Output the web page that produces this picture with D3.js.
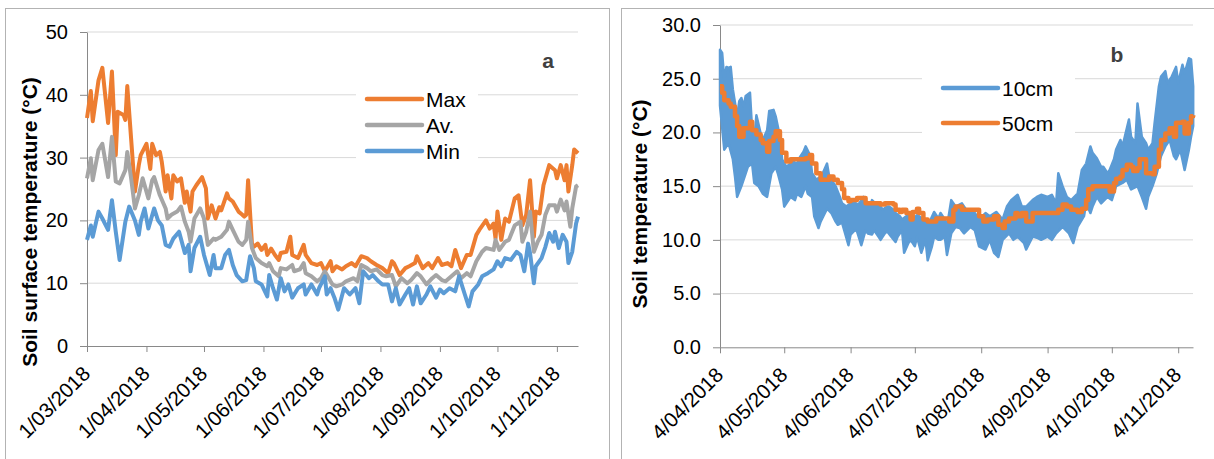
<!DOCTYPE html>
<html>
<head>
<meta charset="utf-8">
<script src="https://cdn.jsdelivr.net/npm/d3@7"></script>
<style>
  body { margin: 0; background: #fff; }
  text { font-family: "Liberation Sans", Arial, sans-serif; }
</style>
</head>
<body>
<svg id="chart" width="1214" height="459"></svg>
<script>
// ---- panel a: soil surface temperature, [days after 1 Mar 2018, °C] ----
const maxT = [[0,36.3],[2,40.6],[3,35.8],[6,42.3],[8,44.3],[11,35.5],[13,43.7],[15,30.4],[16,37.3],[19,36.8],[20,36.0],[21,41.4],[23,33.0],[25,24.6],[27,28.8],[28,30.4],[31,32.2],[33,28.2],[34,32.2],[36,30.4],[38,30.9],[39,29.3],[41,24.6],[42,27.2],[44,23.5],[45,27.2],[47,26.2],[49,26.7],[51,22.8],[52,24.6],[54,21.4],[55,24.6],[57,25.6],[60,26.9],[62,25.1],[63,20.3],[65,22.4],[67,20.3],[69,22.1],[70,21.6],[73,24.3],[74,23.5],[76,23.0],[79,21.4],[81,20.9],[82,20.6],[83,20.9],[84,26.4],[86,16.3],[87,15.8],[89,16.3],[91,15.3],[93,16.1],[94,14.5],[96,15.5],[98,14.5],[100,13.7],[101,14.8],[104,15.0],[106,17.4],[107,14.5],[110,14.0],[113,16.1],[114,14.5],[117,13.2],[120,12.9],[122,13.2],[124,11.9],[127,13.5],[128,11.9],[130,12.7],[133,12.2],[135,12.7],[138,13.2],[140,12.7],[143,14.3],[146,14.0],[148,13.5],[151,12.9],[154,12.4],[157,11.6],[159,13.5],[160,13.2],[163,11.3],[166,12.4],[168,12.7],[171,13.2],[172,14.3],[175,12.4],[178,13.2],[180,12.4],[183,14.0],[185,12.9],[188,13.2],[190,12.7],[192,15.3],[195,12.4],[198,14.5],[200,14.5],[203,17.7],[205,18.7],[208,20.0],[210,18.7],[212,19.5],[213,17.1],[214,21.4],[216,16.9],[218,20.3],[220,19.8],[223,23.5],[225,24.0],[227,19.2],[229,20.9],[231,26.4],[233,17.4],[234,21.4],[236,21.1],[238,25.6],[241,28.8],[244,28.0],[245,26.7],[247,28.8],[249,26.4],[250,28.8],[251,24.6],[253,28.8],[254,31.3],[256,30.7]];
const avT = [[0,26.7],[2,29.9],[3,26.4],[6,31.2],[8,32.2],[11,26.9],[13,33.3],[15,26.2],[17,25.9],[20,28.0],[21,30.9],[23,26.7],[25,21.9],[27,24.0],[29,26.7],[32,23.5],[34,26.4],[35,26.9],[38,24.0],[41,21.9],[42,20.3],[44,20.9],[47,21.4],[49,22.2],[51,19.8],[53,18.2],[54,16.6],[56,20.3],[59,21.9],[61,20.3],[63,16.1],[66,17.1],[67,16.9],[70,17.4],[73,18.5],[74,19.8],[76,18.5],[79,16.6],[81,16.1],[83,16.9],[84,19.8],[86,15.6],[88,14.0],[91,13.2],[94,12.7],[95,13.2],[97,11.9],[100,11.1],[101,12.4],[104,12.2],[107,12.9],[108,11.9],[111,12.2],[113,13.2],[114,11.6],[117,11.1],[120,10.3],[122,10.8],[124,11.9],[127,10.3],[128,9.8],[130,9.5],[133,9.8],[135,10.3],[139,10.8],[141,10.3],[143,12.9],[146,12.4],[148,11.9],[151,12.2],[154,11.3],[156,11.1],[159,11.3],[161,9.5],[164,10.8],[167,10.0],[169,10.5],[172,11.6],[174,11.1],[177,9.8],[180,10.8],[182,11.3],[185,10.5],[187,10.3],[190,11.1],[193,11.9],[195,10.8],[198,11.6],[200,11.1],[203,13.5],[206,15.0],[208,15.6],[212,15.3],[213,16.9],[215,15.3],[218,16.6],[220,16.9],[223,19.2],[226,19.8],[227,16.6],[229,18.2],[231,21.4],[233,15.0],[235,16.6],[237,17.7],[239,20.9],[241,22.4],[244,22.4],[245,21.4],[247,23.3],[249,21.6],[250,23.0],[252,19.0],[253,21.9],[255,25.4],[256,25.6]];
const minT = [[0,16.9],[2,19.2],[3,17.4],[6,21.4],[8,20.3],[11,18.5],[13,23.2],[15,18.2],[17,13.7],[20,19.8],[22,22.2],[25,20.0],[27,17.7],[28,19.8],[30,21.9],[32,18.7],[35,21.9],[37,20.0],[39,19.2],[41,16.1],[43,15.8],[45,17.1],[48,18.2],[51,14.8],[53,16.1],[54,11.9],[56,15.6],[59,17.4],[61,14.5],[64,11.3],[66,14.5],[67,12.4],[70,12.4],[72,14.5],[74,15.3],[76,12.9],[78,11.3],[81,10.3],[83,10.5],[85,14.3],[87,12.4],[88,10.3],[91,9.8],[94,7.9],[95,11.3],[97,9.2],[99,7.4],[101,10.8],[103,8.7],[105,9.8],[107,7.7],[110,9.2],[113,9.8],[114,8.2],[117,9.8],[120,8.2],[121,9.2],[124,11.1],[125,8.2],[127,9.2],[129,7.7],[131,5.8],[134,9.2],[137,8.2],[140,9.2],[142,6.8],[144,11.9],[147,10.8],[149,11.3],[152,10.3],[154,9.8],[157,9.8],[159,7.1],[161,9.2],[163,6.6],[166,8.2],[168,9.2],[170,6.6],[172,9.5],[174,6.8],[177,8.2],[179,9.5],[182,7.7],[184,9.0],[186,8.4],[189,9.2],[192,8.7],[194,11.1],[197,8.2],[199,6.3],[201,8.7],[204,9.8],[206,11.1],[209,11.6],[212,12.2],[214,13.5],[216,12.7],[218,14.0],[221,13.7],[224,15.0],[226,14.5],[228,11.9],[230,16.3],[231,14.8],[233,10.0],[234,12.7],[237,14.0],[239,15.8],[241,18.0],[243,16.6],[244,18.2],[246,15.6],[248,17.7],[250,16.6],[251,13.2],[253,15.0],[255,19.5],[256,20.6]];
const ticksA = ['1/03/2018','1/04/2018','1/05/2018','1/06/2018','1/07/2018','1/08/2018','1/09/2018','1/10/2018','1/11/2018'];
const yTicksA = [0, 10, 20, 30, 40, 50];

// ---- panel b: soil temperature at depth, [days after 4 Apr 2018, °C] ----
// 10cm swings every day, so it is kept as upper and lower envelope
const hi10 = [[0,27.7],[1,27.4],[2,24.9],[3,26.1],[4,26.0],[5,26.1],[6,24.0],[8,21.5],[9,22.9],[10,23.2],[11,22.4],[12,23.4],[14,23.7],[15,20.2],[16,19.3],[17,21.6],[19,19.9],[20,19.3],[22,20.2],[23,22.0],[25,22.1],[26,21.5],[28,19.6],[29,17.5],[31,16.8],[33,17.1],[34,17.3],[36,17.1],[37,17.6],[39,18.2],[40,18.7],[42,17.9],[43,16.2],[45,15.6],[47,15.9],[48,16.2],[50,17.1],[51,15.9],[53,15.3],[54,15.0],[56,14.0],[57,13.4],[59,13.1],[61,13.4],[62,13.7],[64,13.3],[65,13.4],[67,14.0],[68,13.4],[70,13.1],[71,13.7],[73,13.3],[75,13.1],[76,12.8],[78,13.1],[79,13.1],[81,12.8],[82,12.5],[84,12.2],[85,11.9],[87,12.2],[89,12.5],[90,11.9],[92,12.3],[93,12.2],[95,11.9],[96,11.9],[98,11.7],[100,12.6],[102,12.0],[103,12.5],[105,11.9],[106,11.2],[108,13.7],[110,13.1],[113,13.4],[116,12.5],[118,12.8],[121,11.9],[124,12.5],[126,12.2],[129,12.6],[132,11.9],[134,13.1],[136,13.7],[139,14.2],[141,13.1],[143,13.1],[146,13.7],[148,14.0],[150,14.2],[153,14.0],[155,14.2],[157,13.4],[158,16.2],[160,15.0],[162,14.0],[164,13.7],[167,14.3],[169,16.5],[171,17.1],[173,18.7],[174,18.1],[176,17.6],[178,16.8],[179,16.8],[181,16.2],[182,16.5],[184,17.5],[185,18.4],[187,19.3],[188,18.7],[191,21.2],[192,19.6],[194,19.0],[195,22.7],[197,19.6],[199,19.0],[200,18.4],[202,19.0],[203,20.9],[205,24.3],[206,25.2],[208,25.7],[209,24.6],[211,25.2],[213,26.1],[214,24.6],[216,26.3],[217,25.5],[219,26.9],[220,26.8],[221,24.3]];
const lo10 = [[0,22.5],[2,18.4],[4,19.0],[6,17.5],[7,15.9],[8,14.0],[10,15.0],[12,16.2],[13,16.8],[15,17.1],[16,15.3],[18,15.0],[20,14.3],[22,14.0],[24,16.2],[26,16.8],[27,16.2],[29,14.7],[30,13.1],[32,13.7],[33,14.0],[35,13.7],[36,14.3],[38,14.0],[40,15.0],[41,14.3],[43,14.0],[44,12.2],[46,11.1],[47,11.7],[49,12.5],[50,12.9],[52,12.5],[54,11.7],[55,11.4],[57,11.6],[58,10.9],[60,9.5],[61,10.5],[63,10.9],[64,10.8],[66,9.5],[68,10.9],[69,10.6],[71,10.5],[72,10.9],[74,10.3],[75,10.0],[77,10.6],[78,10.8],[80,10.3],[82,9.8],[83,10.3],[85,10.9],[86,8.8],[88,9.7],[89,10.0],[91,9.4],[92,10.3],[94,8.8],[96,10.0],[97,8.1],[99,9.4],[100,10.3],[102,10.0],[103,10.0],[105,10.3],[106,8.6],[108,10.6],[110,11.2],[112,11.1],[114,10.6],[117,11.2],[119,10.9],[121,9.4],[124,9.1],[126,10.0],[128,8.8],[130,8.4],[132,10.0],[135,10.6],[137,10.0],[139,10.3],[142,9.7],[143,9.1],[146,10.3],[148,10.2],[150,10.0],[153,10.3],[155,10.0],[157,10.6],[160,11.2],[163,10.6],[165,9.7],[167,11.2],[170,12.2],[171,13.4],[173,12.5],[174,13.1],[176,14.0],[178,13.4],[181,14.0],[183,13.7],[185,15.0],[188,15.3],[190,15.6],[192,14.7],[195,15.0],[197,14.0],[199,12.9],[200,14.0],[202,15.0],[204,16.2],[206,17.8],[208,18.7],[210,19.3],[212,17.8],[213,17.5],[215,18.4],[217,16.5],[219,18.4],[220,19.6],[221,20.6]];
const t50 = [[0,24.3],[1,23.7],[2,23.0],[4,22.7],[5,22.4],[7,21.5],[8,20.6],[9,19.6],[11,20.4],[12,20.4],[14,21.0],[15,20.2],[17,19.8],[19,19.3],[20,19.0],[22,18.2],[23,19.2],[25,19.6],[26,20.1],[28,19.3],[29,18.1],[31,17.3],[33,17.5],[35,17.5],[37,17.5],[40,17.6],[42,17.9],[43,17.1],[45,16.2],[47,15.6],[49,15.6],[51,15.9],[53,15.6],[55,15.3],[57,14.7],[58,13.9],[60,13.6],[61,13.7],[64,13.9],[66,13.9],[68,13.4],[70,13.4],[72,13.4],[75,13.3],[77,13.4],[79,13.4],[81,13.3],[82,12.8],[84,12.6],[85,12.8],[87,12.5],[89,11.9],[90,12.6],[92,12.9],[93,12.5],[95,11.9],[97,11.7],[99,11.7],[101,12.0],[103,12.0],[106,12.0],[107,11.7],[109,12.8],[110,13.1],[113,12.8],[117,12.8],[119,12.8],[121,12.2],[123,11.7],[125,11.9],[128,12.2],[130,11.4],[132,11.1],[133,11.7],[135,12.0],[138,12.5],[139,12.2],[141,12.5],[143,11.7],[146,12.5],[149,12.5],[152,12.5],[155,12.5],[158,12.8],[160,13.3],[162,13.1],[164,12.8],[167,12.6],[169,12.9],[171,13.7],[172,14.7],[174,15.0],[176,15.0],[178,15.0],[181,15.0],[182,14.5],[184,15.3],[185,15.7],[187,15.9],[188,16.5],[190,17.0],[192,16.8],[193,16.4],[195,16.7],[196,17.5],[198,17.5],[199,16.2],[202,16.1],[203,16.8],[205,18.4],[206,19.3],[208,19.9],[210,20.4],[212,19.6],[213,20.9],[216,21.0],[217,19.9],[219,20.9],[220,21.5],[221,21.6]];
const ticksB = ['4/04/2018','4/05/2018','4/06/2018','4/07/2018','4/08/2018','4/09/2018','4/10/2018','4/11/2018'];
const yTicksB = [0, 5, 10, 15, 20, 25, 30];

const ORANGE = '#ED7D31', GREY = '#A5A5A5', BLUE = '#5B9BD5';
const AXIS = '#898989', GRID = '#d9d9d9', FRAME = '#b3b3b3';

const parse = d3.timeParse('%d/%m/%Y');
const fmtDate = d3.timeFormat('%-d/%m/%Y');

const svg = d3.select('#chart');
svg.append('rect').attr('width', 1214).attr('height', 459).attr('fill', '#fff');

// chart frames (bottom edges fall outside the picture)
svg.append('rect').attr('x', 5.5).attr('y', 8.5).attr('width', 604).attr('height', 470)
  .attr('fill', 'none').attr('stroke', FRAME);
svg.append('rect').attr('x', 621.5).attr('y', 8.5).attr('width', 620).attr('height', 470)
  .attr('fill', 'none').attr('stroke', FRAME);

const drawAxes = (x, y, yTicks, xTicks, yFmt) => {
  const [x0, x1] = x.range();
  const [yb] = y.range();

  svg.append('g')
    .selectAll('line').data(yTicks.filter(d => d > 0)).join('line')
      .attr('x1', x0).attr('x2', x1)
      .attr('y1', d => y(d)).attr('y2', d => y(d))
      .attr('stroke', GRID);

  const gy = svg.append('g')
    .attr('transform', `translate(${x0},0)`)
    .call(d3.axisLeft(y).tickValues(yTicks).tickSize(7).tickSizeOuter(0).tickPadding(12).tickFormat(yFmt));
  gy.attr('font-family', null).attr('font-size', 20);
  gy.select('.domain').attr('stroke', AXIS);
  gy.selectAll('.tick line').attr('stroke', AXIS);
  gy.selectAll('text').attr('fill', '#000');

  const gx = svg.append('g')
    .attr('transform', `translate(0,${yb})`)
    .call(d3.axisBottom(x).tickValues(xTicks.map(parse)).tickSize(6).tickSizeOuter(0).tickFormat(fmtDate));
  gx.attr('font-family', null).attr('font-size', 20.5);
  gx.select('.domain').attr('stroke', AXIS);
  gx.selectAll('.tick line').attr('stroke', AXIS);
  gx.selectAll('text')
    .attr('fill', '#000')
    .attr('text-anchor', 'end')
    .attr('x', 0).attr('y', 0).attr('dy', 0)
    .attr('transform', 'translate(4,29) rotate(-45)');
};

const legend = (items, x, y0, step, box) => {
  svg.append('rect').attr('x', box[0]).attr('y', box[1])
    .attr('width', box[2]).attr('height', box[3]).attr('fill', '#fff');
  items.forEach(([label, color], i) => {
    const yy = y0 + i * step;
    svg.append('line').attr('x1', x).attr('x2', x + 55).attr('y1', yy).attr('y2', yy)
      .attr('stroke', color).attr('stroke-width', 4.5).attr('stroke-linecap', 'round');
    svg.append('text').attr('x', x + 59).attr('y', yy + 7.5)
      .attr('font-size', 21).attr('fill', '#000').text(label);
  });
};

// ---------- panel a ----------
const startA = new Date(2018, 2, 1);
const xA = d3.scaleTime().domain([startA, new Date(2018, 10, 12)]).range([87, 578]);
const yA = d3.scaleLinear().domain([0, 50]).range([346, 32]);
drawAxes(xA, yA, yTicksA, ticksA, d3.format('d'));

const lineA = d3.line()
  .x(d => xA(d3.timeDay.offset(startA, d[0])))
  .y(d => yA(d[1]));

[[maxT, ORANGE], [avT, GREY], [minT, BLUE]].forEach(([data, color]) => {
  svg.append('path').datum(data)
    .attr('d', lineA)
    .attr('fill', 'none').attr('stroke', color)
    .attr('stroke-width', 4).attr('stroke-linejoin', 'round');
});

legend([['Max', ORANGE], ['Av.', GREY], ['Min', BLUE]], 367, 99, 26, [356, 82, 122, 84]);

svg.append('text').attr('x', 548).attr('y', 68).attr('text-anchor', 'middle')
  .attr('font-size', 21).attr('font-weight', 'bold').attr('fill', '#404040').text('a');

svg.append('text')
  .attr('transform', 'translate(37,222) rotate(-90)')
  .attr('text-anchor', 'middle').attr('font-size', 21).attr('font-weight', 'bold')
  .attr('fill', '#000').text('Soil surface temperature (°C)');

// ---------- panel b ----------
const startB = new Date(2018, 3, 4);
const xB = d3.scaleTime().domain([startB, new Date(2018, 10, 10, 22)]).range([720, 1193]);
const yB = d3.scaleLinear().domain([0, 30]).range([347.3, 25]);
drawAxes(xB, yB, yTicksB, ticksB, d3.format('.1f'));

const lineB = d3.line()
  .x(d => xB(d3.timeDay.offset(startB, d[0])))
  .y(d => yB(d[1]));

// 10cm: daily highs forward, daily lows back
svg.append('path')
  .attr('d', lineB(hi10.concat(lo10.slice().reverse())) + 'Z')
  .attr('fill', BLUE).attr('stroke', BLUE)
  .attr('stroke-width', 2.5).attr('stroke-linejoin', 'round');

svg.append('path').datum(t50)
  .attr('d', lineB.curve(d3.curveStepAfter))
  .attr('fill', 'none').attr('stroke', ORANGE)
  .attr('stroke-width', 4.5).attr('stroke-linejoin', 'round');

legend([['10cm', BLUE], ['50cm', ORANGE]], 943, 88, 35, [922, 68, 153, 75]);

svg.append('text').attr('x', 1117).attr('y', 62).attr('text-anchor', 'middle')
  .attr('font-size', 21).attr('font-weight', 'bold').attr('fill', '#404040').text('b');

svg.append('text')
  .attr('transform', 'translate(647,204) rotate(-90)')
  .attr('text-anchor', 'middle').attr('font-size', 21).attr('font-weight', 'bold')
  .attr('fill', '#000').text('Soil temperature (°C)');
</script>
</body>
</html>
